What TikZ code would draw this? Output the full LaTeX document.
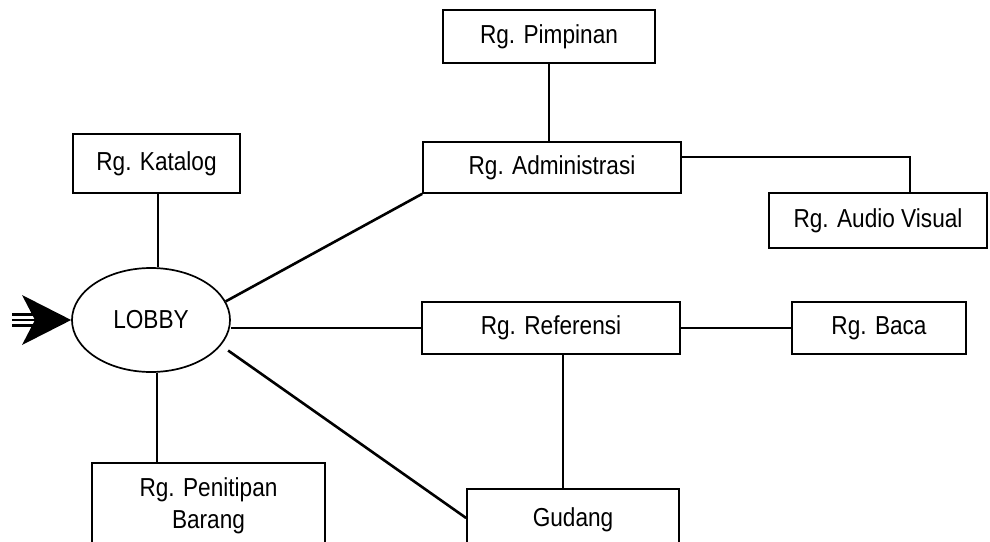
\documentclass[tikz,border=0pt]{standalone}
\usepackage{fontspec}
\setmainfont{Liberation Sans}[FakeStretch=0.87]
\usetikzlibrary{shapes.geometric}
\begin{document}
\begin{tikzpicture}[x=1pt,y=-1pt,
  room/.style={draw,line width=1.7pt,rectangle,inner sep=0pt,align=center,
    font=\fontsize{26}{32}\selectfont},
  hall/.style={draw,line width=1.7pt,ellipse,inner sep=0pt,
    font=\fontsize{26}{30}\selectfont},
  link/.style={line width=1.9pt},
  wide/.style={line width=2.6pt}]
\useasboundingbox (0,0) rectangle (990,541);
\clip (0,0) rectangle (990,541);

% rooms
\node[room,minimum width=212pt,minimum height=53pt] (pimp) at (549,36.5) {Rg. Pimpinan};
\node[room,minimum width=258pt,minimum height=51pt] (admin) at (552,167.5) {Rg. Administrasi};
\node[room,minimum width=218pt,minimum height=55pt] (audio) at (878,220.5) {Rg. Audio Visual};
\node[room,minimum width=167pt,minimum height=59pt] (katalog) at (156.5,163.5) {Rg. Katalog};
\node[room,minimum width=258pt,minimum height=52pt] (ref) at (551,328) {Rg. Referensi};
\node[room,minimum width=174pt,minimum height=52pt] (baca) at (879,328) {Rg. Baca};
\node[room,minimum width=212pt,minimum height=62pt] (gudang) at (573,520) {Gudang};
\node[room,minimum width=233pt,minimum height=86pt] (titip) at (208.5,506) {Rg. Penitipan\\Barang};

% entrance hall
\node[hall,minimum width=158pt,minimum height=104pt] (lobby) at (151,320) {LOBBY};

% entrance arrow
\fill (22,295) -- (lobby.west) -- (22,345) -- (35,320) -- cycle;
\foreach \yy in {314.5,320,325.5}
  \draw[line width=2.4pt] (12,\yy) -- (38,\yy);

% connections
\draw[link] (pimp.south) -- (pimp.south |- admin.north);
\draw[link] ([yshift=10.5pt]admin.east) -| ([xshift=32pt]audio.north);
\draw[link] ([xshift=1.5pt]katalog.south) -- ([xshift=1.5pt]katalog.south |- lobby.north);
\draw[wide] (lobby.14) -- (admin.south west);
\draw[link] (ref.west) -- (ref.west -| lobby.east);
\draw[link] (ref.east) -- (ref.east -| baca.west);
\draw[wide] ([xshift=9pt,yshift=-3pt]lobby.-22) -- ([yshift=2pt]gudang.west);
\draw[link] ([xshift=-10pt]gudang.north) -- ([xshift=-10pt]gudang.north |- ref.south);
\draw[link] ([xshift=6pt]lobby.south) -- ([xshift=6pt]lobby.south |- titip.north);
\end{tikzpicture}
\end{document}
